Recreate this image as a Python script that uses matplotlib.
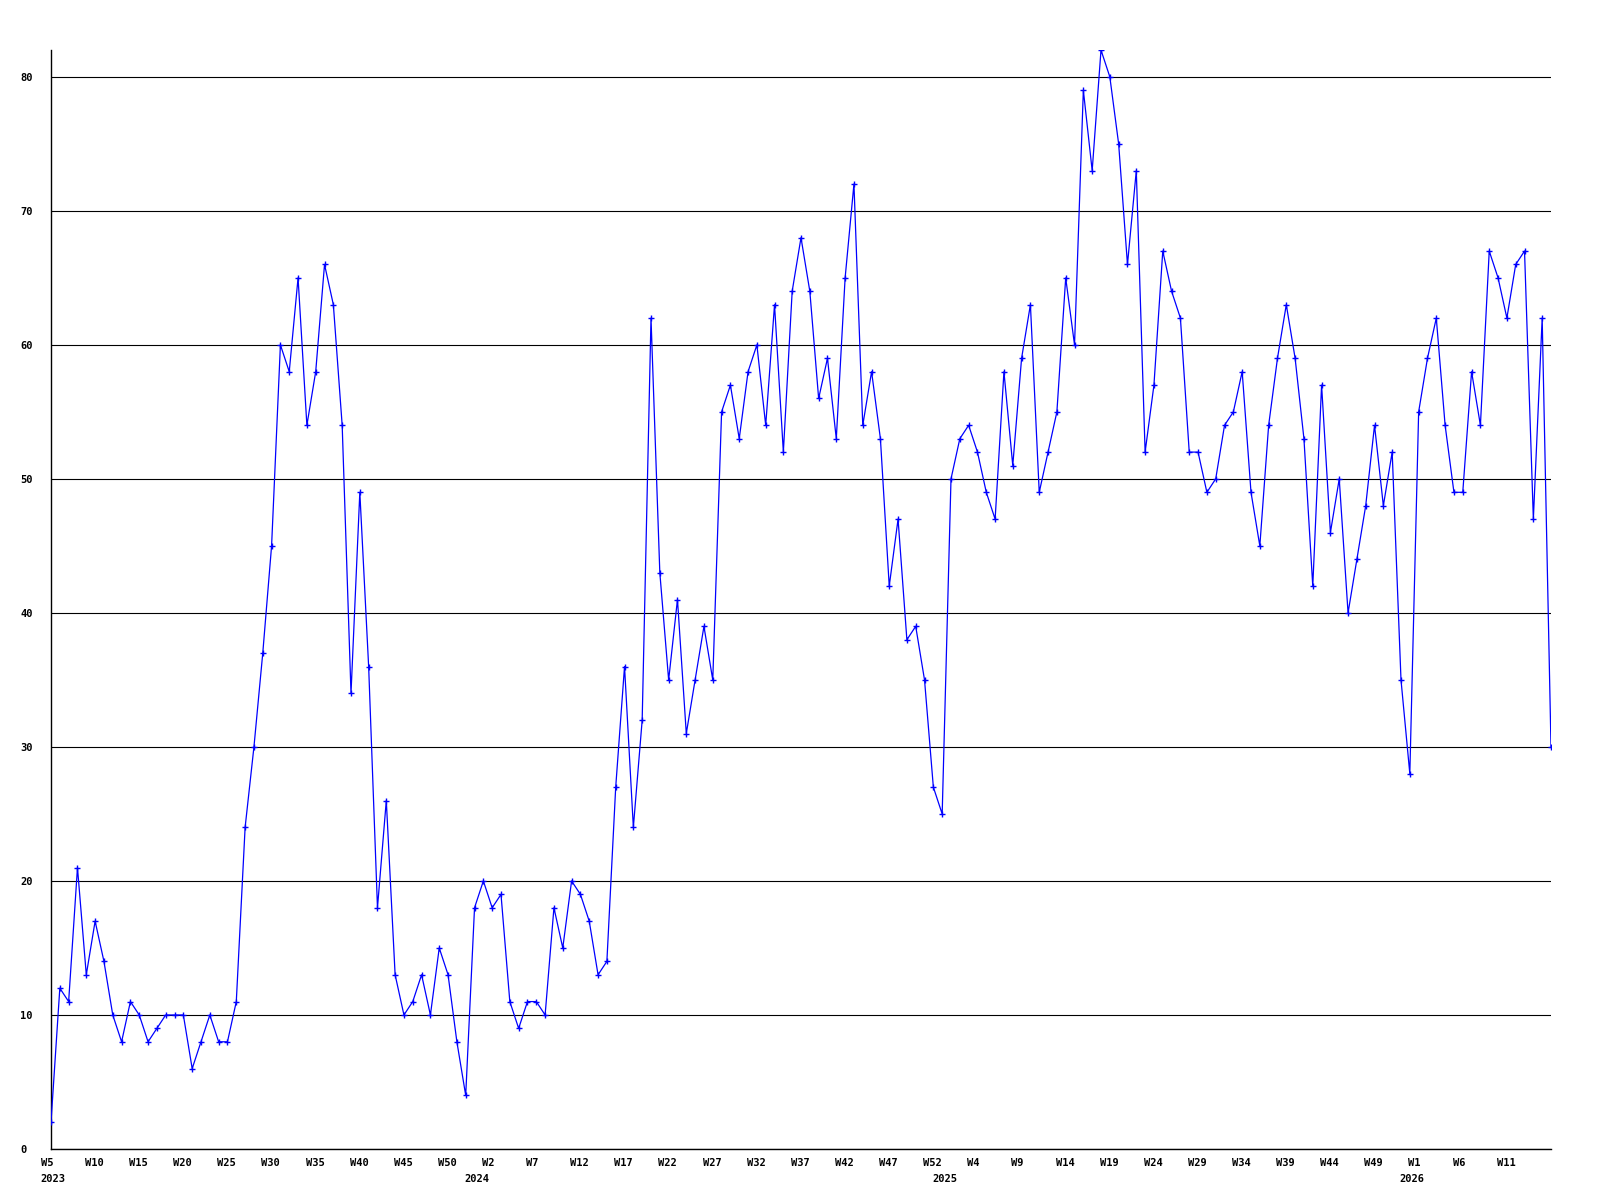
import matplotlib
matplotlib.use("Agg")
import matplotlib.pyplot as plt
from matplotlib.transforms import ScaledTranslation

# weekly counts, 2023 W5 .. 2026 W16 (week numbers run W0..W52 each year)
counts = [
    2, 12, 11, 21, 13, 17, 14, 10, 8, 11, 10, 8, 9, 10, 10, 10, 6, 8, 10, 8, 8, 11, 24, 30, 37, 45, 60, 58, 65,
    54, 58, 66, 63, 54, 34, 49, 36, 18, 26, 13, 10, 11, 13, 10, 15, 13, 8, 4, 18, 20, 18, 19, 11, 9, 11, 11, 10,
    18, 15, 20, 19, 17, 13, 14, 27, 36, 24, 32, 62, 43, 35, 41, 31, 35, 39, 35, 55, 57, 53, 58, 60, 54, 63, 52, 64, 68,
    64, 56, 59, 53, 65, 72, 54, 58, 53, 42, 47, 38, 39, 35, 27, 25, 50, 53, 54, 52, 49, 47, 58, 51, 59, 63, 49, 52,
    55, 65, 60, 79, 73, 82, 80, 75, 66, 73, 52, 57, 67, 64, 62, 52, 52, 49, 50, 54, 55, 58, 49, 45, 54, 59, 63, 59,
    53, 42, 57, 46, 50, 40, 44, 48, 54, 48, 52, 35, 28, 55, 59, 62, 54, 49, 49, 58, 54, 67, 65, 62, 66, 67, 47, 62, 30,
]
start_year = 2023
start_week = 5
weeks_in_year = 53  # W0..W52
y_ticks = [0, 10, 20, 30, 40, 50, 60, 70, 80]

# week / year for every point
weeks, years = [], []
w, yr = start_week, start_year
for _ in counts:
    weeks.append(w)
    years.append(yr)
    w += 1
    if w >= weeks_in_year:
        w, yr = 0, yr + 1

x = list(range(len(counts)))
week_pos = x[:-1][::5]  # no label on the very last point
week_labels = [f"W{weeks[i]}" for i in week_pos]
year_pos = [i for i in x if i == 0 or years[i] != years[i - 1]]
year_labels = [str(years[i]) for i in year_pos]

fig = plt.figure(figsize=(16, 12), dpi=100)
ax = fig.add_axes([51 / 1600, 0.0425, 1500 / 1600, 0.9583 - 0.0425])

ax.plot(x, counts, color="#0000ff", linewidth=0.9, marker="+", markersize=5,
        markeredgewidth=1.0, zorder=3)

ax.set_xlim(0, len(counts) - 1)
ax.set_ylim(0, max(counts))

ax.set_yticks(y_ticks)
ax.yaxis.grid(True, color="black", linewidth=0.8)
ax.set_axisbelow(True)

for s in ["top", "right"]:
    ax.spines[s].set_visible(False)
for s in ["left", "bottom"]:
    ax.spines[s].set_color("black")
    ax.spines[s].set_linewidth(1.0)

font = dict(family="DejaVu Sans Mono", weight="bold", size=7.5)

ax.xaxis.remove_overlapping_locs = False  # keep "2023" under W5
ax.set_xticks(week_pos)
ax.set_xticklabels(week_labels, **font)
ax.set_xticks(year_pos, minor=True)
ax.set_xticklabels(year_labels, minor=True, **font)
ax.tick_params(axis="x", which="major", length=0, pad=6.5)
ax.tick_params(axis="x", which="minor", length=0, pad=18)
ax.tick_params(axis="y", length=0, pad=22.3)
ax.set_yticklabels([str(v) for v in y_ticks], **font)

# labels start a bit left of their tick, like the original
shift = ScaledTranslation(-10.2 / 100, 0, fig.dpi_scale_trans)
for lab in ax.get_xticklabels() + ax.get_xticklabels(minor=True):
    lab.set_ha("left")
    lab.set_transform(lab.get_transform() + shift)
for lab in ax.get_yticklabels():
    lab.set_ha("left")

fig.savefig("out.png", dpi=100)
